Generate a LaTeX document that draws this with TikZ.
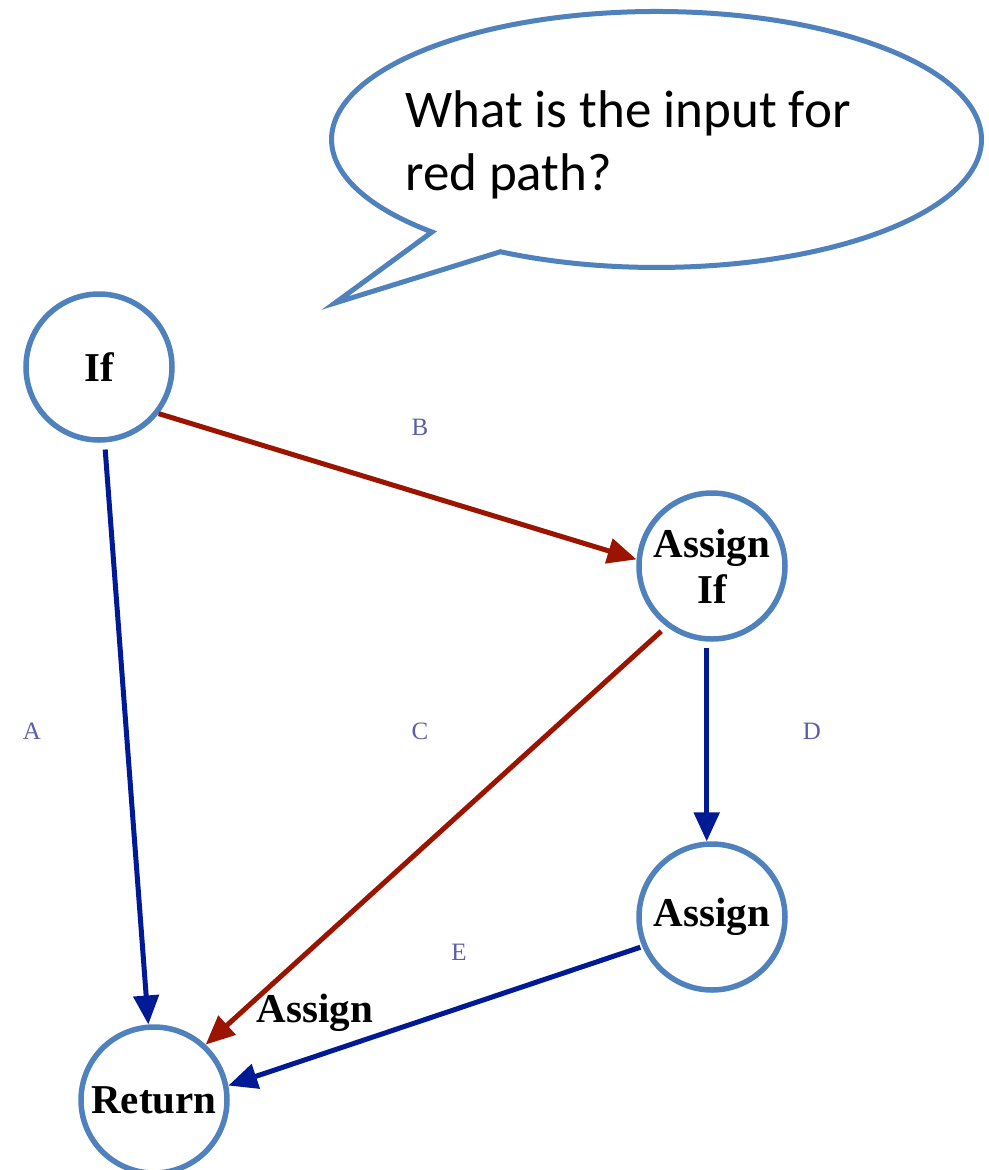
\documentclass[tikz,border=0pt]{standalone}
\usepackage{fontspec}
\setmainfont{Liberation Serif}
\newfontfamily\bubblefont{Carlito}
\usetikzlibrary{arrows.meta,shadows}
\definecolor{ringblue}{HTML}{4F81BD}
\definecolor{edgered}{HTML}{9A1400}
\definecolor{edgeblue}{HTML}{001A96}
\definecolor{lblcol}{HTML}{5B5EA6}
\tikzset{
  stmt/.style={circle, draw=ringblue, line width=5.5pt, fill=white, minimum size=146pt, inner sep=0pt,
    align=center, font=\fontsize{41}{46}\selectfont\bfseries,
    drop shadow={opacity=0.2, shadow xshift=2pt, shadow yshift=-2pt}},
  redarrow/.style={draw=edgered, line width=5pt, -{Triangle[length=29pt,width=25pt]}},
  bluearrow/.style={draw=edgeblue, line width=5pt, -{Triangle[length=29pt,width=25pt]}},
  elbl/.style={text=lblcol, font=\fontsize{25}{28}\selectfont},
  qtext/.style={anchor=base west, inner sep=0pt, font=\bubblefont\fontsize{53}{63}\selectfont}
}
\begin{document}
\begin{tikzpicture}[x=1pt,y=-1pt]
\useasboundingbox (0,0) rectangle (988,1170);
% speech bubble
\draw[ringblue, line width=5pt, fill=white, line join=miter]
  (432,232) arc[start angle=133.7, end angle=478.7, x radius=325, y radius=128]
  -- (335,303) -- cycle;
\node[qtext] (q1) at (405,127) {What is the input for};
\node[qtext] (q2) at (405,190) {red path?};
% nodes
\node[stmt] (If) at (99,367) {If};
\node[stmt] (AssignIf) at (712,566) {Assign\\If};
\node[stmt] (Assign) at (712,917) {Assign};
\node[stmt] (Return) at (154,1100) {Return};
% edges
\draw[bluearrow, shorten <=7pt] (If) -- (Return);
\draw[redarrow] (If.-38) -- (AssignIf.175);
\draw[redarrow, shorten <=7pt] (AssignIf.233) -- (Return.47);
\draw[bluearrow, shorten <=6pt] (AssignIf.-94) -- (Assign.94);
\draw[bluearrow, shorten <=2pt] (Assign.203) -- (Return.11);
% labels
\node[elbl] (lA) at (32,731) {A};
\node[elbl] (lB) at (420,427) {B};
\node[elbl] (lC) at (420,731) {C};
\node[elbl] (lD) at (812,731) {D};
\node[elbl] (lE) at (459,952) {E};
\node[font=\fontsize{41}{46}\selectfont\bfseries] (lAssign) at (315,1013) {Assign};
\end{tikzpicture}
\end{document}
